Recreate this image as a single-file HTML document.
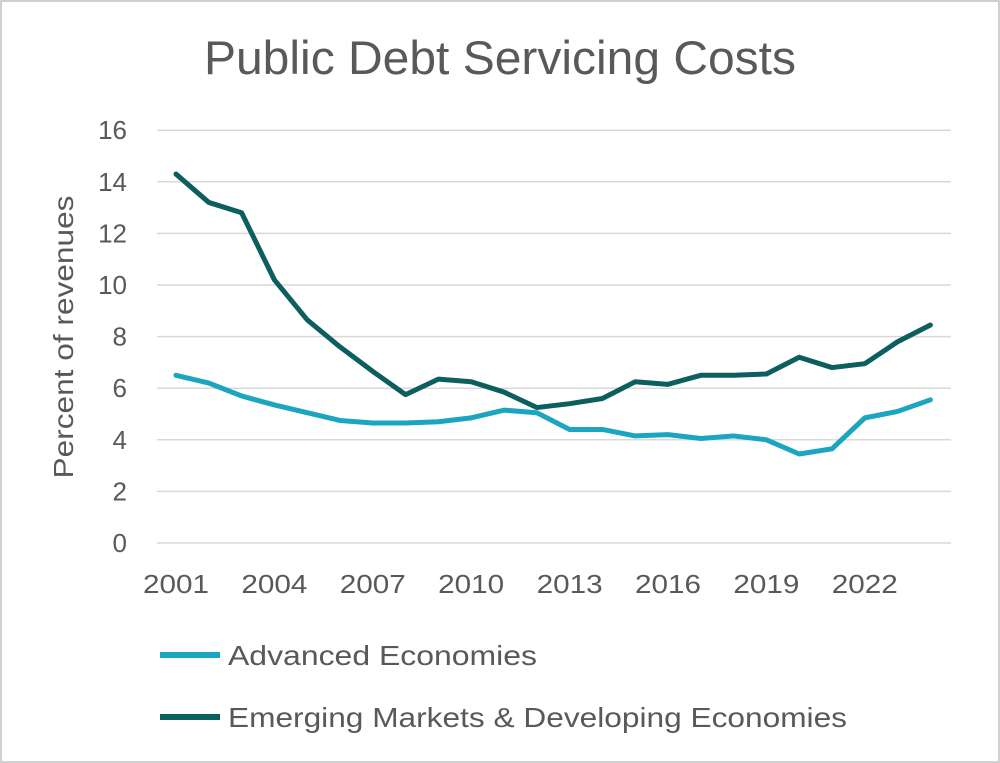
<!DOCTYPE html>
<html><head><meta charset="utf-8"><style>
body{margin:0;background:#fff;}
svg{display:block;font-family:"Liberation Sans",sans-serif;}
</style></head><body>
<svg id="chart" width="1000" height="763">
<rect x="1" y="1" width="998" height="761" fill="#fff" stroke="#d0d0d0" stroke-width="2"/>
<text x="500" y="74" text-anchor="middle" font-size="47" fill="#595959" textLength="592" lengthAdjust="spacingAndGlyphs">Public Debt Servicing Costs</text>
<text transform="translate(73,337) rotate(-90)" text-anchor="middle" font-size="28" fill="#595959" textLength="283" lengthAdjust="spacingAndGlyphs">Percent of revenues</text>
<g id="grid"></g><g id="yt"></g><g id="xt"></g><g id="lines"></g>
<line x1="160" y1="655" x2="220" y2="655" stroke="#1ba5c0" stroke-width="6"/>
<text x="228" y="665" font-size="28" fill="#595959" textLength="309" lengthAdjust="spacingAndGlyphs">Advanced Economies</text>
<line x1="160" y1="717" x2="220" y2="717" stroke="#0d5e5f" stroke-width="6"/>
<text x="228" y="727" font-size="28" fill="#595959" textLength="619" lengthAdjust="spacingAndGlyphs">Emerging Markets &amp; Developing Economies</text>
</svg>
<script>
const years=[2001,2002,2003,2004,2005,2006,2007,2008,2009,2010,2011,2012,2013,2014,2015,2016,2017,2018,2019,2020,2021,2022,2023,2024];
const advanced=[6.5,6.2,5.7,5.35,5.05,4.75,4.65,4.65,4.7,4.85,5.15,5.05,4.4,4.4,4.15,4.2,4.05,4.15,4.0,3.45,3.65,4.85,5.1,5.55];
const emerging=[14.3,13.2,12.8,10.2,8.65,7.6,6.65,5.75,6.35,6.25,5.85,5.25,5.4,5.6,6.25,6.15,6.5,6.5,6.55,7.2,6.8,6.95,7.8,8.45];
const yTicks=[0,2,4,6,8,10,12,14,16];
const xTicks=[2001,2004,2007,2010,2013,2016,2019,2022];
const NS="http://www.w3.org/2000/svg";
const X=y=>176+(y-2001)*32.8;
const Y=v=>543-v*25.8;
function mk(t,a,p){const e=document.createElementNS(NS,t);for(const k in a)e.setAttribute(k,a[k]);p.appendChild(e);return e;}
const g=document.getElementById('grid'),yt=document.getElementById('yt'),xt=document.getElementById('xt'),L=document.getElementById('lines');
yTicks.forEach(v=>{
 const l=mk('line',{x1:157,x2:951,y1:Y(v),y2:Y(v),stroke:'#d9d9d9','stroke-width':1.5},g);
 
 
 const t=mk('text',{x:127,y:Y(v)+9,'text-anchor':'end','font-size':26,fill:'#595959'},yt);
 t.textContent=v;
 
 
});
xTicks.forEach(v=>{
 const t=mk('text',{x:X(v),y:593,'text-anchor':'middle','font-size':26,fill:'#595959',textLength:66,lengthAdjust:'spacingAndGlyphs'},xt);
 t.textContent=v;
 
 
});
function line(arr,c,name){
 const p=mk('polyline',{points:arr.map((v,i)=>X(years[i])+','+Y(v)).join(' '),fill:'none',stroke:c,'stroke-width':5,'stroke-linejoin':'round','stroke-linecap':'round'},L);
 
 
}
line(advanced,'#1ba5c0','advanced-economies-line');
line(emerging,'#0d5e5f','emerging-markets-line');
</script>
</body></html>
